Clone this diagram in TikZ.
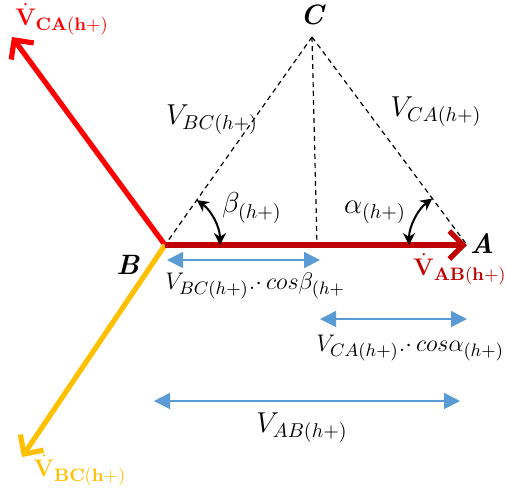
\documentclass[tikz,border=0pt]{standalone}
\usepackage{amsmath, amssymb}
\usepackage{tikz}
\usepackage{xcolor}
\usetikzlibrary{arrows.meta, angles}

\definecolor{phasered}{HTML}{FF0000}
\definecolor{darkred}{HTML}{C00000}
\definecolor{phaseyellow}{HTML}{FFC000}
\definecolor{dimblue}{HTML}{5B9BD5}

\begin{document}
\begin{tikzpicture}[x=0.5pt, y=-0.5pt, >=Stealth,
  every node/.style={font=\fontsize{14}{17}\selectfont, inner sep=1pt},
  phasor/.style={line width=2.6pt, -{Straight Barb[length=7pt,width=14pt]}},
  phlabel/.style={font=\fontsize{13}{15}\selectfont},
  projlabel/.style={anchor=west, font=\fontsize{13.2}{16}\selectfont},
  dimline/.style={dimblue, line width=0.8pt, {Triangle[length=8pt,width=8pt]}-{Triangle[length=8pt,width=8pt]}},
  side/.style={dash pattern=on 2.5pt off 2pt, line width=0.6pt},
  angarrow/.style={draw, line width=1pt, {Stealth[length=6pt,width=6pt]}-{Stealth[length=6pt,width=6pt]}}]

  \useasboundingbox (0,0) rectangle (506,495);

  % --- Κορυφές τριγώνου ---
  \coordinate (B) at (165,245);
  \coordinate (A) at (467,245);
  \coordinate (C) at (312,37);
  \coordinate (H) at (317,245);

  % --- Άκρα φασιθετών ---
  \coordinate (tipCA) at (12,37);
  \coordinate (tipBC) at (22,457);

  % ============================================================
  % Πλευρές τριγώνου (διακεκομμένες)
  % ============================================================
  \draw[side] (C) -- (B);
  \draw[side] (C) -- (A);
  \draw[side] (C) -- (H);

  % ============================================================
  % Φασιθέτες τάσεων
  % ============================================================
  \draw[phasor, phasered] (B) -- (tipCA);
  \draw[phasor, phaseyellow] (B) -- (tipBC);
  \draw[phasor, darkred] (B) -- (A);

  \node[phlabel, phasered] (nCA) at (62,19) {$\dot{\mathbf{V}}_{\mathbf{CA(h+)}}$};
  \node[phlabel, darkred] (nAB) at (460,269) {$\dot{\mathbf{V}}_{\mathbf{AB(h+)}}$};
  \node[phlabel, phaseyellow] (nBC) at (80,470) {$\dot{\mathbf{V}}_{\mathbf{BC(h+)}}$};

  % --- Ετικέτες κορυφών ---
  \node (lC) at (313,15) {\textbf{\textit{C}}};
  \node (lB) at (128,265) {\textbf{\textit{B}}};
  \node (lA) at (482,244) {\textbf{\textit{A}}};

  \node (lVBC) at (212,120) {$V_{BC(h+)}$};
  \node (lVCA) at (436,112) {$V_{CA(h+)}$};

  % ============================================================
  % Γωνίες
  % ============================================================
  \pic[angarrow, angle radius=27.5pt] {angle = A--B--C};
  \pic[angarrow, angle radius=29pt] {angle = C--A--B};
  \node (lbeta) at (252,208) {$\beta_{(h+)}$};
  \node (lalpha) at (375,212) {$\alpha_{(h+)}$};

  % ============================================================
  % Προβολές
  % ============================================================
  \coordinate (d1l) at (167,260);
  \coordinate (d1r) at (320,260);
  \coordinate (d2l) at (320,319);
  \coordinate (d2r) at (467,319);
  \coordinate (d3l) at (154,401);
  \coordinate (d3r) at (460,401);

  \draw[dimline] (d1l) -- (d1r);
  \draw[dimline] (d2l) -- (d2r);
  \draw[dimline] (d3l) -- (d3r);

  \node[projlabel] (lproj1) at (163,286) {$V_{BC(h+)}.{\cdot}\,cos\beta_{(h+}$};
  \node[projlabel] (lproj2) at (314,348) {$V_{CA(h+)}.{\cdot}\,cos\alpha_{(h+)}$};
  \node (lAB) at (302,428) {$V_{AB(h+)}$};

\end{tikzpicture}
\end{document}
